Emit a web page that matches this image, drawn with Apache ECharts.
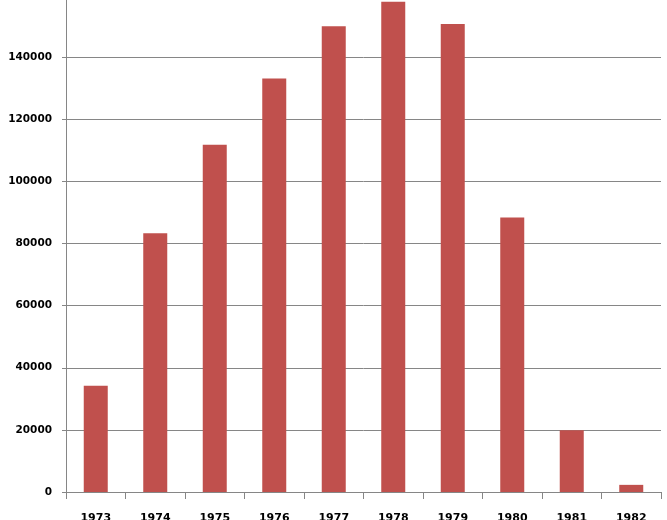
<!DOCTYPE html>
<html>
<head>
<meta charset="utf-8">
<script src="https://cdn.jsdelivr.net/npm/echarts@6/dist/echarts.min.js"></script>
<style>html,body{margin:0;padding:0;background:#fff;overflow:hidden;}#c{width:667px;height:530px;position:absolute;left:0;top:-10px;}</style>
</head>
<body>
<div id="c"></div>
<script>
const years = ['1973','1974','1975','1976','1977','1978','1979','1980','1981','1982'];
const values = [34200, 83300, 111800, 133100, 149900, 157800, 150700, 88400, 19900, 2300];
const yTicks = { min: 0, max: 160000, interval: 20000 };

const chart = echarts.init(document.getElementById('c'), null, { renderer: 'canvas' });
chart.setOption({
  animation: false,
  backgroundColor: '#ffffff',
  grid: { left: 66, right: 6, top: 5, bottom: 28, containLabel: false, outerBoundsMode: 'none' },
  xAxis: {
    type: 'category',
    data: years,
    axisLine: { lineStyle: { color: '#868686', width: 1 } },
    axisTick: { show: true, length: 7, alignWithLabel: false, lineStyle: { color: '#868686' } },
    axisLabel: { margin: 21, color: '#000', fontFamily: 'DejaVu Sans', fontWeight: 'bold', fontSize: 11 }
  },
  yAxis: {
    type: 'value',
    min: yTicks.min, max: yTicks.max, interval: yTicks.interval,
    axisLine: { show: true, lineStyle: { color: '#868686', width: 1 } },
    axisTick: { show: true, length: 4, lineStyle: { color: '#868686' } },
    splitLine: { show: true, lineStyle: { color: '#868686', width: 1 } },
    axisLabel: { margin: 14, color: '#000', fontFamily: 'DejaVu Sans', fontWeight: 'bold', fontSize: 10.5,
      formatter: function (v) { return String(v); } }
  },
  series: [{
    type: 'bar',
    data: values,
    barWidth: 24,
    itemStyle: { color: '#C0504D' }
  }]
});
</script>
</body>
</html>
